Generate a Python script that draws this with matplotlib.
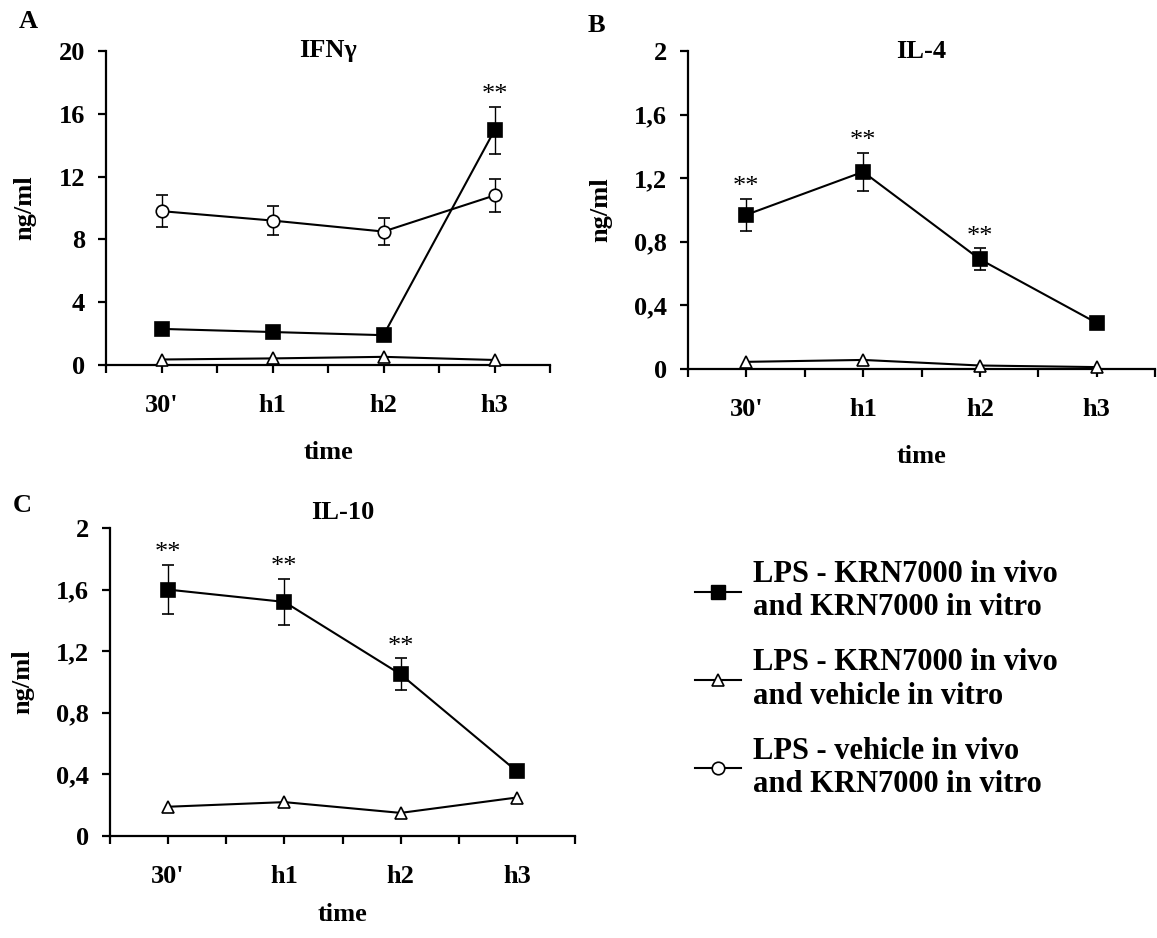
import numpy as np
import matplotlib
matplotlib.use('Agg')
import matplotlib.pyplot as plt
from matplotlib.lines import Line2D

plt.rcParams['font.family'] = ['Liberation Serif', 'DejaVu Serif']
plt.rcParams['font.weight'] = 'bold'
plt.rcParams['axes.labelweight'] = 'bold'

# Данные
times = ["30'", "h1", "h2", "h3"]

# A: IFNγ
ifn_krn = [2.3, 2.1, 1.9, 14.95]
ifn_krn_err = [0, 0, 0, 1.5]
ifn_veh_vitro = [0.35, 0.42, 0.52, 0.32]
ifn_veh_vivo = [9.8, 9.2, 8.5, 10.8]
ifn_veh_vivo_err = [1.0, 0.95, 0.85, 1.05]
ifn_sig = ["", "", "", "**"]

# B: IL-4
il4_krn = [0.97, 1.24, 0.69, 0.29]
il4_krn_err = [0.1, 0.12, 0.07, 0]
il4_veh_vitro = [0.045, 0.057, 0.022, 0.012]
il4_sig = ["**", "**", "**", ""]

# C: IL-10
il10_krn = [1.6, 1.52, 1.05, 0.42]
il10_krn_err = [0.16, 0.15, 0.105, 0]
il10_veh_vitro = [0.19, 0.22, 0.15, 0.25]
il10_sig = ["**", "**", "**", ""]

ifn_ticks = [0, 4, 8, 12, 16, 20]
ifn_ticklabels = ["0", "4", "8", "12", "16", "20"]
il_ticks = [0, 0.4, 0.8, 1.2, 1.6, 2.0]
il_ticklabels = ["0", "0,4", "0,8", "1,2", "1,6", "2"]

legend_labels = ["LPS - KRN7000 in vivo\nand KRN7000 in vitro",
                 "LPS - KRN7000 in vivo\nand vehicle in vitro",
                 "LPS - vehicle in vivo\nand KRN7000 in vitro"]

FS = 19
W, H = 1157, 938
fig = plt.figure(figsize=(W / 100, H / 100), dpi=100)


def px_axes(left, right, top, bottom):
    return fig.add_axes([left / W, 1 - bottom / H, (right - left) / W, (bottom - top) / H])


def style_panel(ax, yticks, yticklabels, title, title_y=1.0, xlabelpad=17):
    x = np.arange(len(times))
    ax.set_xlim(-0.5, len(times) - 0.5)
    ax.set_ylim(yticks[0], yticks[-1])
    for s in ['top', 'right']:
        ax.spines[s].set_visible(False)
    for s in ['left', 'bottom']:
        ax.spines[s].set_linewidth(1.6)
    ax.set_xticks(x)
    ax.set_xticklabels(times, fontsize=FS)
    ax.set_xticks(np.arange(-0.5, len(times)), minor=True)
    ax.tick_params(axis='x', which='both', direction='out', length=6, width=1.6, pad=15)
    ax.set_yticks(yticks)
    ax.set_yticklabels(yticklabels, fontsize=FS)
    ax.tick_params(axis='y', direction='out', length=6, width=1.6, pad=9)
    ax.set_xlabel('time', fontsize=FS, labelpad=xlabelpad)
    ax.set_ylabel('ng/ml', fontsize=FS, labelpad=16)
    ax.text(0.5, title_y, title, transform=ax.transAxes, ha='center', va='center', fontsize=FS)


def draw_series(ax, vals, err, marker, mfc, ms):
    x = np.arange(len(times))
    if err is None:
        ax.plot(x, vals, '-', color='k', lw=1.5, marker=marker, ms=ms, mfc=mfc, mec='k',
                mew=1.2, clip_on=False, zorder=3)
    else:
        ax.errorbar(x, vals, yerr=err, fmt='-', color='k', lw=1.5, marker=marker, ms=ms,
                    mfc=mfc, mec='k', mew=1.2, elinewidth=1, capsize=4.5, capthick=1,
                    clip_on=False, zorder=3)


def draw_stars(ax, vals, err, sig):
    for i, s in enumerate(sig):
        if s:
            ax.annotate(s, (i, vals[i] + err[i]), xytext=(0, 4), textcoords='offset points',
                        ha='center', va='baseline', fontsize=FS, fontweight='normal')


# Панель A
axA = px_axes(106, 550, 51, 365)
draw_series(axA, ifn_veh_vitro, None, '^', 'white', 8.5)
draw_series(axA, ifn_veh_vivo, ifn_veh_vivo_err, 'o', 'white', 9)
draw_series(axA, ifn_krn, ifn_krn_err, 's', 'k', 9.5)
draw_stars(axA, ifn_krn, ifn_krn_err, ifn_sig)
style_panel(axA, ifn_ticks, ifn_ticklabels, 'IFNγ')

# Панель B
axB = px_axes(688, 1155, 51, 369)
draw_series(axB, il4_veh_vitro, None, '^', 'white', 8.5)
draw_series(axB, il4_krn, il4_krn_err, 's', 'k', 9.5)
draw_stars(axB, il4_krn, il4_krn_err, il4_sig)
style_panel(axB, il_ticks, il_ticklabels, 'IL-4')

# Панель C
axC = px_axes(110, 575, 528, 836)
draw_series(axC, il10_veh_vitro, None, '^', 'white', 8.5)
draw_series(axC, il10_krn, il10_krn_err, 's', 'k', 9.5)
draw_stars(axC, il10_krn, il10_krn_err, il10_sig)
style_panel(axC, il_ticks, il_ticklabels, 'IL-10', title_y=1.05, xlabelpad=11)

# Буквы панелей
fig.text(28 / W, 1 - 22 / H, 'A', ha='center', va='center', fontsize=FS)
fig.text(596 / W, 1 - 26 / H, 'B', ha='center', va='center', fontsize=FS)
fig.text(22 / W, 1 - 505 / H, 'C', ha='center', va='center', fontsize=FS)

# Легенда
handles = [
    Line2D([], [], color='k', lw=1.5, marker='s', ms=9.5, mfc='k', mec='k'),
    Line2D([], [], color='k', lw=1.5, marker='^', ms=8.5, mfc='white', mec='k', mew=1.2),
    Line2D([], [], color='k', lw=1.5, marker='o', ms=9, mfc='white', mec='k', mew=1.2),
]
fig.legend(handles, legend_labels, loc='upper left', bbox_to_anchor=(695 / W, 1 - 560 / H),
           frameon=False, fontsize=22, borderpad=0, borderaxespad=0,
           handlelength=1.5, handletextpad=0.4, labelspacing=0.85)

fig.savefig('out.png', dpi=100)
